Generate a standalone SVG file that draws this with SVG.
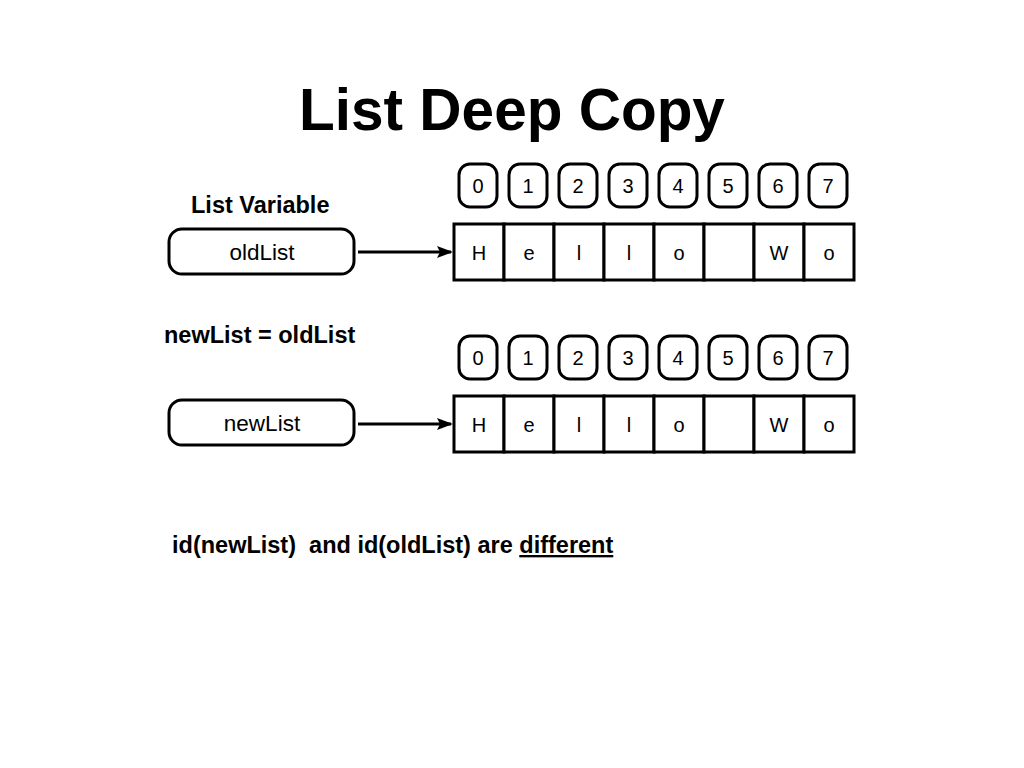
<svg xmlns="http://www.w3.org/2000/svg" width="1024" height="768" viewBox="0 0 1024 768">
<defs>
<style>
text{font-family:"Liberation Sans",Arial,sans-serif;fill:#000}
.title{font-size:58.5px;font-weight:bold;text-anchor:middle}
.lbl{font-size:23.5px;font-weight:bold}
.t{font-size:20px;text-anchor:middle}
.v{font-size:22.5px;text-anchor:middle}
.var{fill:#fff;stroke:#000;stroke-width:3}
.idx{fill:#fff;stroke:#000;stroke-width:3}
.cell{fill:#fff;stroke:#000;stroke-width:3}
.conn{stroke:#000;stroke-width:3;fill:none;marker-end:url(#ah)}
</style>
<marker id="ah" viewBox="0 0 16 12" refX="14" refY="6" markerWidth="16" markerHeight="12" markerUnits="userSpaceOnUse" orient="auto">
<path d="M0,0 L16,6 L0,12 L3,6 Z" fill="#000"/>
</marker>
</defs>
<rect width="1024" height="768" fill="#fff"/>
<text class="title" x="512" y="130">List Deep Copy</text>
<text class="lbl" x="191" y="213">List Variable</text>
<text class="lbl" x="164" y="343">newList = oldList</text>

<g id="oldList">
<rect class="var" x="169" y="229" width="185" height="45" rx="13"/>
<text class="v" x="262" y="260">oldList</text>
</g>
<g id="newList">
<rect class="var" x="169" y="400" width="185" height="45" rx="13"/>
<text class="v" x="262" y="431">newList</text>
</g>

<g id="oldIndices">
<rect class="idx" x="459" y="164" width="38" height="43" rx="11"/><text class="t" x="478" y="193">0</text>
<rect class="idx" x="509" y="164" width="38" height="43" rx="11"/><text class="t" x="528" y="193">1</text>
<rect class="idx" x="559" y="164" width="38" height="43" rx="11"/><text class="t" x="578" y="193">2</text>
<rect class="idx" x="609" y="164" width="38" height="43" rx="11"/><text class="t" x="628" y="193">3</text>
<rect class="idx" x="659" y="164" width="38" height="43" rx="11"/><text class="t" x="678" y="193">4</text>
<rect class="idx" x="709" y="164" width="38" height="43" rx="11"/><text class="t" x="728" y="193">5</text>
<rect class="idx" x="759" y="164" width="38" height="43" rx="11"/><text class="t" x="778" y="193">6</text>
<rect class="idx" x="809" y="164" width="38" height="43" rx="11"/><text class="t" x="828" y="193">7</text>
</g>
<g id="oldArray">
<rect class="cell" x="454" y="224" width="50" height="56"/><text class="t" x="479" y="260">H</text>
<rect class="cell" x="504" y="224" width="50" height="56"/><text class="t" x="529" y="260">e</text>
<rect class="cell" x="554" y="224" width="50" height="56"/><text class="t" x="579" y="260">l</text>
<rect class="cell" x="604" y="224" width="50" height="56"/><text class="t" x="629" y="260">l</text>
<rect class="cell" x="654" y="224" width="50" height="56"/><text class="t" x="679" y="260">o</text>
<rect class="cell" x="704" y="224" width="50" height="56"/>
<rect class="cell" x="754" y="224" width="50" height="56"/><text class="t" x="779" y="260">W</text>
<rect class="cell" x="804" y="224" width="50" height="56"/><text class="t" x="829" y="260">o</text>
</g>

<g id="newIndices">
<rect class="idx" x="459" y="336" width="38" height="43" rx="11"/><text class="t" x="478" y="365">0</text>
<rect class="idx" x="509" y="336" width="38" height="43" rx="11"/><text class="t" x="528" y="365">1</text>
<rect class="idx" x="559" y="336" width="38" height="43" rx="11"/><text class="t" x="578" y="365">2</text>
<rect class="idx" x="609" y="336" width="38" height="43" rx="11"/><text class="t" x="628" y="365">3</text>
<rect class="idx" x="659" y="336" width="38" height="43" rx="11"/><text class="t" x="678" y="365">4</text>
<rect class="idx" x="709" y="336" width="38" height="43" rx="11"/><text class="t" x="728" y="365">5</text>
<rect class="idx" x="759" y="336" width="38" height="43" rx="11"/><text class="t" x="778" y="365">6</text>
<rect class="idx" x="809" y="336" width="38" height="43" rx="11"/><text class="t" x="828" y="365">7</text>
</g>
<g id="newArray">
<rect class="cell" x="454" y="396" width="50" height="56"/><text class="t" x="479" y="432">H</text>
<rect class="cell" x="504" y="396" width="50" height="56"/><text class="t" x="529" y="432">e</text>
<rect class="cell" x="554" y="396" width="50" height="56"/><text class="t" x="579" y="432">l</text>
<rect class="cell" x="604" y="396" width="50" height="56"/><text class="t" x="629" y="432">l</text>
<rect class="cell" x="654" y="396" width="50" height="56"/><text class="t" x="679" y="432">o</text>
<rect class="cell" x="704" y="396" width="50" height="56"/>
<rect class="cell" x="754" y="396" width="50" height="56"/><text class="t" x="779" y="432">W</text>
<rect class="cell" x="804" y="396" width="50" height="56"/><text class="t" x="829" y="432">o</text>
</g>

<g id="connectors">
<line class="conn" x1="358" y1="252" x2="451" y2="252"/>
<line class="conn" x1="358" y1="424" x2="451" y2="424"/>
</g>

<text class="lbl" x="172" y="553" xml:space="preserve">id(newList)  and id(oldList) are <tspan text-decoration="underline">different</tspan></text>
</svg>
